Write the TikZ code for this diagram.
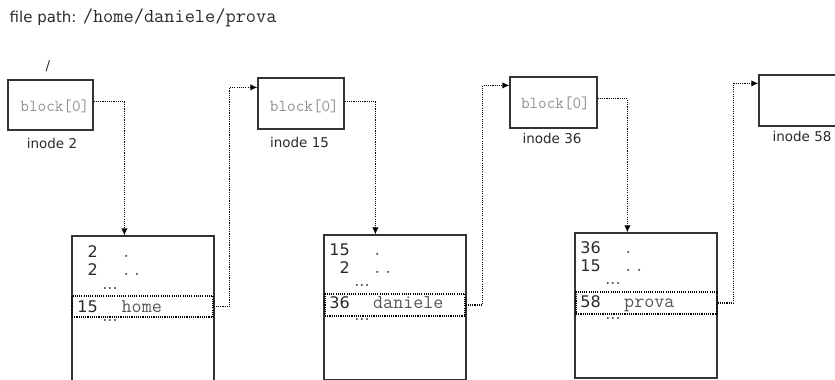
\documentclass[tikz,border=0pt]{standalone}
\usepackage{fontspec}
\setmainfont{DejaVu Sans}
\usetikzlibrary{arrows.meta,calc}
\definecolor{boxc}{HTML}{333333}
\definecolor{blkc}{HTML}{8F8F8F}
\definecolor{namec}{HTML}{555555}
\definecolor{numc}{HTML}{2A2A2A}
\definecolor{dotc}{HTML}{555555}
\newcommand{\twodots}{.\kern2.6pt.}
\tikzset{
  ibox/.style={draw=boxc, line width=1.2pt, inner sep=0pt, minimum width=86pt, minimum height=51pt},
  dbox/.style={draw=boxc, line width=1.2pt, inner sep=0pt, minimum width=142pt},
  hbox/.style={draw=black, line width=1.2pt, dash pattern=on 1.1pt off 1.1pt, inner sep=0pt},
  link/.style={draw=black, line width=1.2pt, dash pattern=on 1.1pt off 1.1pt, -{Latex[length=7pt,width=6.5pt]}},
  blk/.style={inner sep=0pt, anchor=base east, text=blkc, font=\ttfamily\fontsize{16.7}{18}\selectfont},
  lbl/.style={inner sep=0pt, anchor=base, text=numc, font=\fontsize{13.5}{16}\selectfont},
  num/.style={inner sep=0pt, anchor=base east, text=numc, text height=11.5pt, text depth=0pt, font=\fontsize{16}{18}\selectfont},
  nam/.style={inner sep=0pt, anchor=base west, text=namec, text height=9pt, text depth=2pt, font=\ttfamily\fontsize{19.5}{21}\selectfont},
  dots/.style={inner sep=0pt, anchor=base west, text=namec, text height=2pt, text depth=0pt, font=\ttfamily\bfseries\fontsize{16}{18}\selectfont},
  ell/.style={inner sep=0pt, anchor=base, text=dotc, text height=2pt, text depth=0pt, font=\fontsize{16}{18}\selectfont},
}
\begin{document}
\begin{tikzpicture}[x=1pt,y=-1pt]
\useasboundingbox (0,0) rectangle (835,380);

% title
\node[inner sep=0pt, anchor=base west, text=numc, font=\fontsize{15}{18}\selectfont] (title) at (9.5,22.7)
  {file path: {\ttfamily\fontsize{19.8}{21}\selectfont\color{numc}/home/daniele/prova}};

% root slash
\node[lbl] (root) at (48,70) {/};

% inode boxes
\node[ibox, minimum width=85pt, minimum height=50pt] (i2) at (50.5,105) {};
\node[ibox] (i15) at (301,103.5) {};
\node[ibox, minimum width=87pt] (i36) at (553.5,102.5) {};
\node[ibox] (i58) at (802,100.5) {};

\node[blk] (b2) at (89.5,111.5) {block[0]};
\node[blk] (b15) at (339,111.5) {block[0]};
\node[blk] (b36) at (590,108.5) {block[0]};

\node[lbl] (l2) at (52,148) {inode 2};
\node[lbl] (l15) at (299.5,147.3) {inode 15};
\node[lbl] (l36) at (552,143.3) {inode 36};
\node[lbl] (l58) at (802,141.7) {inode 58};

% directory blocks
\node[dbox, minimum height=154pt] (d1) at (143,313) {};
\node[dbox, minimum height=144.5pt] (d2) at (395,307.25) {};
\node[dbox, minimum height=145pt] (d3) at (646,305.5) {};

% highlighted entries
\node[hbox, minimum width=141pt, minimum height=21pt] (h1) at (142.5,306.5) {};
\node[hbox, minimum width=140pt, minimum height=22pt] (h2) at (395,305) {};
\node[hbox, minimum width=141pt, minimum height=22pt] (h3) at (646.5,303) {};

% entries of block 1
\node[num] (n11) at (98,257.7) {2};
\node[dots] (m11) at (121.8,257.7) {.};
\node[num] (n12) at (98,275) {2};
\node[dots] (m12) at (121.8,275) {\twodots};
\node[ell] (e11) at (110,289.5) {...};
\node[num] (n13) at (98,312.7) {15};
\node[nam] (m13) at (121.5,312.7) {home};
\node[ell] (e12) at (110,321) {...};

% entries of block 2
\node[num] (n21) at (350,255) {15};
\node[dots] (m21) at (373,255) {.};
\node[num] (n22) at (350,273.3) {2};
\node[dots] (m22) at (373,273.3) {\twodots};
\node[ell] (e21) at (362,286) {...};
\node[num] (n23) at (350,308.3) {36};
\node[nam] (m23) at (373,308.3) {daniele};
\node[ell] (e22) at (362,320) {...};

% entries of block 3
\node[num] (n31) at (601,253.3) {36};
\node[dots] (m31) at (624,253.3) {.};
\node[num] (n32) at (601,271.7) {15};
\node[dots] (m32) at (624,271.7) {\twodots};
\node[ell] (e31) at (613,284) {...};
\node[num] (n33) at (601,307.3) {58};
\node[nam] (m33) at (624,307.3) {prova};
\node[ell] (e32) at (613,319) {...};

% connector coordinates
\coordinate (d1in) at ([xshift=53pt]d1.north west);
\coordinate (d2in) at ([xshift=52pt]d2.north west);
\coordinate (d3in) at ([xshift=53pt]d3.north west);
\coordinate (i15in) at ([yshift=-10pt]i15.north west);
\coordinate (i36in) at ([yshift=-9pt]i36.north west);
\coordinate (i58in) at ([yshift=-9pt]i58.north west);
\coordinate (r1) at ([xshift=16pt]h1.east |- i15in);
\coordinate (r2) at ([xshift=17pt]h2.east |- i36in);
\coordinate (r3) at ([xshift=16pt]h3.east |- i58in);

% block[0] -> directory block
\draw[link] ([yshift=4.5pt]b2.east -| i2.east) -| (d1in);
\draw[link] ([yshift=4.5pt]b15.east -| i15.east) -| (d2in);
\draw[link] ([yshift=4.5pt]b36.east -| i36.east) -| (d3in);

% entry -> next inode
\draw[link] (h1.east) -| (r1) -- (i15in);
\draw[link] (h2.east) -| (r2) -- (i36in);
\draw[link] (h3.east) -| (r3) -- (i58in);
\end{tikzpicture}
\end{document}
